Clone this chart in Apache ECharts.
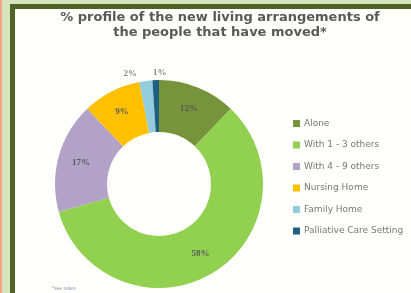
<!DOCTYPE html>
<html>
<head>
<meta charset="utf-8">
<script src="https://cdn.jsdelivr.net/npm/echarts@6/dist/echarts.min.js"></script>
<style>
  html, body { margin: 0; padding: 0; background: #fff; }
  #main { width: 411px; height: 293px; }
</style>
</head>
<body>
<div id="main"></div>
<script>
var categories = ['Alone', 'With 1 - 3 others', 'With 4 - 9 others', 'Nursing Home', 'Family Home', 'Palliative Care Setting'];
var values = [12, 58, 17, 9, 2, 1];
var colors = ['#77933c', '#92d050', '#b3a2c7', '#ffc000', '#93cddd', '#1f5f7f'];
// nudge (dx, dy) for the two tiny slices so their labels sit above the ring
var smallShift = { 4: [26, -13], 5: [16, -3] };

var chart = echarts.init(document.getElementById('main'));

var data = categories.map(function (name, i) {
  var item = { name: name, value: values[i], itemStyle: { color: colors[i] } };
  if (smallShift[i]) {
    item.label = { position: 'outside', color: '#888' };
  }
  return item;
});

var option = {
  backgroundColor: '#fffffb',
  title: {
    text: '% profile of the new living arrangements of\nthe people that have moved*',
    left: 215,
    top: 5,
    textAlign: 'center',
    textStyle: {
      fontFamily: 'DejaVu Sans',
      fontSize: 13,
      fontWeight: 'bold',
      color: '#595959',
      lineHeight: 15
    }
  },
  legend: {
    orient: 'vertical',
    left: 288,
    top: 114,
    itemWidth: 7,
    itemHeight: 7,
    itemGap: 12.5,
    icon: 'rect',
    textStyle: { fontSize: 9, color: '#777', fontFamily: 'DejaVu Sans', padding: [0, 0, 0, -1] },
    data: categories
  },
  series: [{
    type: 'pie',
    center: [159, 184],
    radius: [52, 104],
    startAngle: 90,
    clockwise: true,
    silent: true,
    label: {
      show: true,
      position: 'inside',
      formatter: '{c}%',
      fontFamily: 'Liberation Serif',
      fontSize: 9,
      fontWeight: 'bold',
      color: '#595959'
    },
    labelLine: { show: false, length: 4, length2: 0 },
    labelLayout: function (params) {
      var s = smallShift[params.dataIndex];
      if (s) return { dx: s[0], dy: s[1] };
      return {};
    },
    data: data
  }],
  graphic: [
    { type: 'rect', shape: { x: 0, y: 0, width: 411, height: 4 }, style: { fill: '#d7e4bd' } },
    { type: 'rect', shape: { x: 0, y: 0, width: 10, height: 293 }, style: { fill: '#d7e4bd' } },
    { type: 'rect', shape: { x: 0, y: 0, width: 2, height: 293 }, style: { fill: '#f2a58a' } },
    { type: 'rect', shape: { x: 10, y: 4, width: 401, height: 5 }, style: { fill: '#4f6228' } },
    { type: 'rect', shape: { x: 10, y: 4, width: 5, height: 289 }, style: { fill: '#4f6228' } },
    { type: 'text', left: 52, top: 286, style: { text: '*see notes', fontSize: 5, fill: '#8a9ab0' } }
  ]
};

chart.setOption(option);
</script>
</body>
</html>
